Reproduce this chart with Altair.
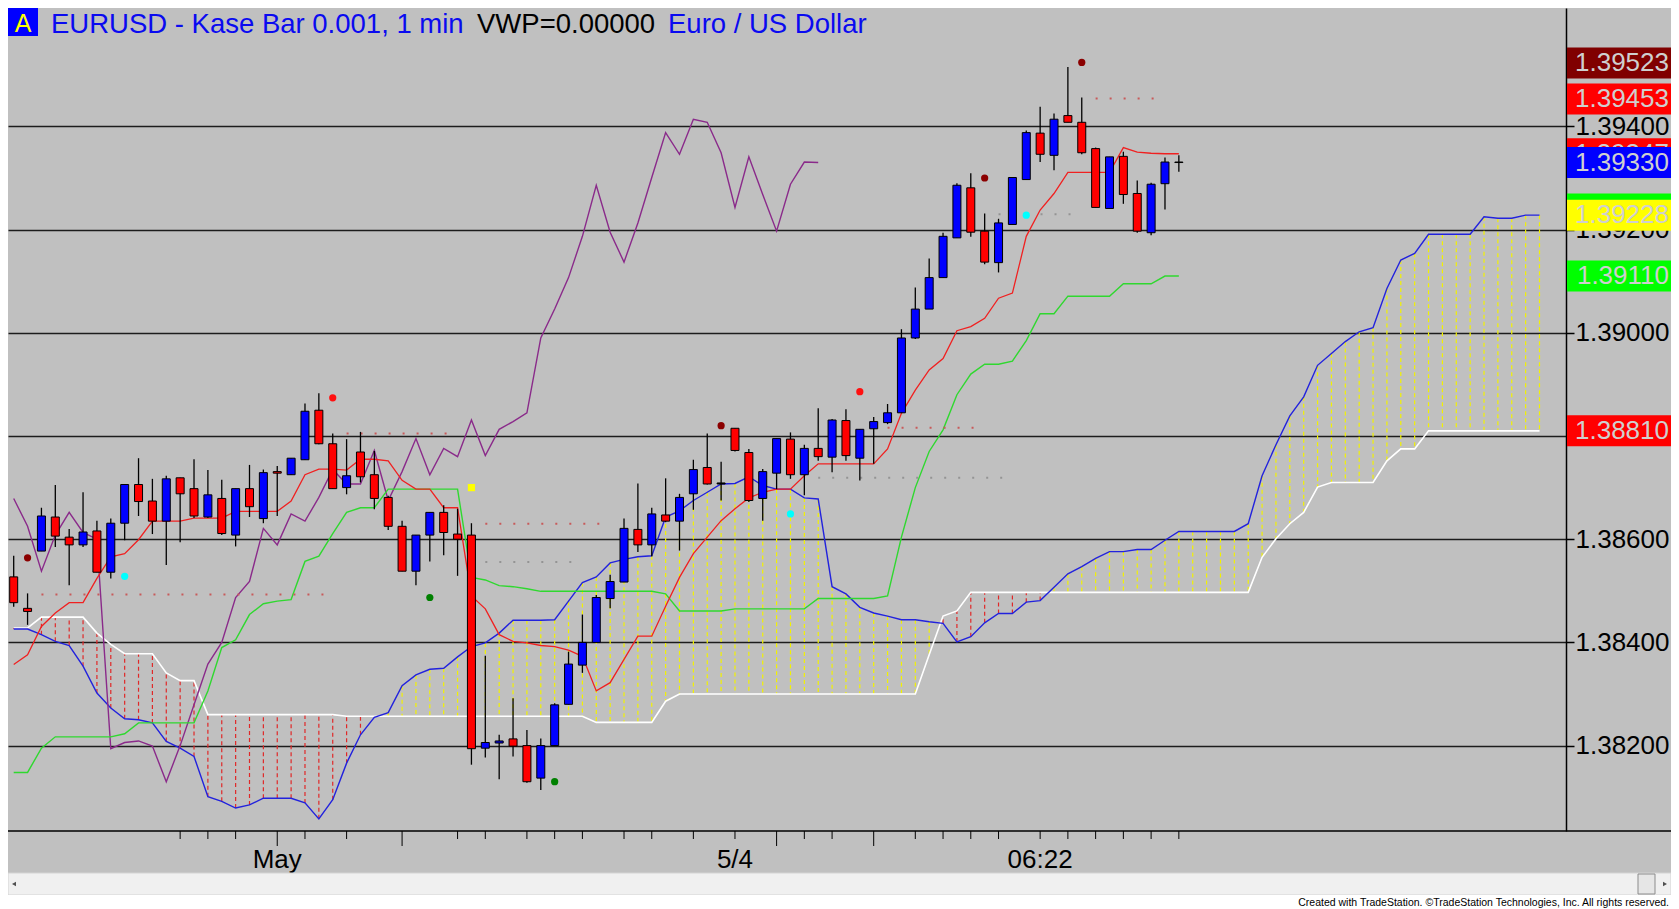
import altair as alt
import pandas as pd

# ---------------- data ----------------
opens = [1.38527,1.38466,1.38577,1.38643,1.38604,1.38589,1.38616,1.38536,1.38631,1.38706,
         1.38674,1.38635,1.38719,1.38698,1.38643,1.38679,1.38608,1.38698,1.38640,1.38731,
         1.38725,1.38754,1.38850,1.38785,1.38700,1.38769,1.38725,1.38681,1.38625,1.38538,
         1.38608,1.38652,1.38610,1.38608,1.38195,1.38205,1.38213,1.38200,1.38137,1.38200,
         1.38280,1.38356,1.38400,1.38485,1.38517,1.38619,1.38589,1.38647,1.38635,1.38688,
         1.38739,1.38709,1.38815,1.38768,1.38679,1.38728,1.38794,1.38725,1.38776,1.38759,
         1.38830,1.38757,1.38814,1.38826,1.38845,1.38990,1.39046,1.39107,1.39184,1.39281,
         1.39197,1.39136,1.39210,1.39297,1.39387,1.39344,1.39421,1.39408,1.39357,1.39241,
         1.39342,1.39270,1.39194,1.39289,1.39331]
highs = [1.38568,1.38495,1.38661,1.38705,1.38620,1.38691,1.38636,1.38640,1.38706,1.38757,
         1.38717,1.38723,1.38719,1.38755,1.38734,1.38715,1.38698,1.38744,1.38735,1.38742,
         1.38757,1.38863,1.38883,1.38805,1.38794,1.38808,1.38771,1.38684,1.38636,1.38608,
         1.38652,1.38666,1.38659,1.38631,1.38374,1.38221,1.38292,1.38230,1.38214,1.38282,
         1.38382,1.38454,1.38492,1.38531,1.38640,1.38708,1.38661,1.38718,1.38688,1.38754,
         1.38805,1.38750,1.38815,1.38775,1.38736,1.38795,1.38807,1.38783,1.38854,1.38833,
         1.38852,1.38813,1.38837,1.38862,1.39007,1.39088,1.39144,1.39194,1.39290,1.39309,
         1.39231,1.39221,1.39302,1.39392,1.39438,1.39425,1.39515,1.39456,1.39359,1.39341,
         1.39351,1.39295,1.39291,1.39340,1.39344]
lows = [1.38469,1.38434,1.38577,1.38585,1.38511,1.38585,1.38536,1.38524,1.38598,1.38645,
        1.38610,1.38550,1.38594,1.38641,1.38641,1.38608,1.38586,1.38643,1.38631,1.38645,
        1.38725,1.38754,1.38784,1.38698,1.38687,1.38710,1.38658,1.38618,1.38538,1.38511,
        1.38557,1.38569,1.38529,1.38163,1.38177,1.38135,1.38179,1.38128,1.38114,1.38200,
        1.38280,1.38341,1.38400,1.38466,1.38517,1.38575,1.38567,1.38633,1.38578,1.38657,
        1.38706,1.38675,1.38770,1.38672,1.38636,1.38697,1.38717,1.38685,1.38752,1.38730,
        1.38752,1.38714,1.38746,1.38823,1.38845,1.38988,1.39046,1.39107,1.39184,1.39186,
        1.39133,1.39117,1.39210,1.39297,1.39331,1.39315,1.39408,1.39346,1.39243,1.39241,
        1.39250,1.39194,1.39189,1.39239,1.39312]
closes = [1.38477,1.38460,1.38645,1.38606,1.38589,1.38614,1.38536,1.38631,1.38706,1.38673,
          1.38635,1.38717,1.38688,1.38645,1.38686,1.38611,1.38698,1.38663,1.38729,1.38728,
          1.38757,1.38848,1.38785,1.38698,1.38723,1.38721,1.38679,1.38625,1.38538,1.38608,
          1.38652,1.38613,1.38600,1.38194,1.38206,1.38209,1.38199,1.38130,1.38200,1.38279,
          1.38358,1.38400,1.38487,1.38518,1.38621,1.38589,1.38649,1.38635,1.38681,1.38735,
          1.38707,1.38707,1.38772,1.38675,1.38731,1.38795,1.38725,1.38776,1.38760,1.38831,
          1.38762,1.38813,1.38828,1.38845,1.38990,1.39046,1.39107,1.39187,1.39286,1.39195,
          1.39137,1.39213,1.39301,1.39388,1.39346,1.39414,1.39408,1.39349,1.39243,1.39341,
          1.39268,1.39197,1.39288,1.39331,1.39330]

tenkan = [1.38357,1.38376,1.38431,1.38457,1.38477,1.38477,1.38524,1.38566,1.38572,1.38599,
          1.38635,1.38635,1.38635,1.38641,1.38641,1.38641,1.38654,1.38654,1.38654,1.38654,
          1.38674,1.38725,1.38736,1.38736,1.38734,1.38755,1.38755,1.38752,1.38714,1.38697,
          1.38697,1.38661,1.38661,1.38490,1.38465,1.38415,1.38402,1.38399,1.38394,1.38392,
          1.38385,1.38373,1.38306,1.38322,1.38367,1.38412,1.38412,1.38470,1.38526,1.38572,
          1.38604,1.38636,1.38659,1.38680,1.38691,1.38697,1.38697,1.38723,1.38746,1.38746,
          1.38746,1.38746,1.38746,1.38775,1.38844,1.38889,1.38928,1.38950,1.39004,1.39012,
          1.39028,1.39067,1.39077,1.39187,1.39238,1.39270,1.39311,1.39311,1.39311,1.39311,
          1.39359,1.39350,1.39348,1.39347,1.39347]
kijun = [1.38148,1.38148,1.38195,1.38217,1.38217,1.38217,1.38217,1.38217,1.38223,1.38244,
         1.38244,1.38244,1.38244,1.38244,1.38306,1.38390,1.38405,1.38454,1.38475,1.38480,
         1.38483,1.38557,1.38567,1.38611,1.38652,1.38661,1.38661,1.38697,1.38697,1.38697,
         1.38697,1.38697,1.38697,1.38526,1.38521,1.38510,1.38508,1.38504,1.38499,1.38499,
         1.38499,1.38499,1.38499,1.38499,1.38499,1.38499,1.38499,1.38494,1.38461,1.38461,
         1.38461,1.38461,1.38465,1.38465,1.38465,1.38465,1.38465,1.38465,1.38485,1.38485,
         1.38485,1.38485,1.38485,1.38490,1.38604,1.38700,1.38770,1.38812,1.38880,1.38920,
         1.38939,1.38939,1.38945,1.38985,1.39037,1.39037,1.39071,1.39071,1.39071,1.39071,
         1.39095,1.39095,1.39095,1.39110,1.39110]
span_a = [1.38426,1.38426,1.38415,1.38402,1.38394,1.38354,1.38302,1.38273,1.38252,1.38250,
          1.38244,1.38208,1.38195,1.38179,1.38101,1.38092,1.38079,1.38085,1.38098,1.38098,
          1.38098,1.38089,1.38058,1.38095,1.38166,1.38221,1.38255,1.38264,1.38316,1.38337,
          1.38348,1.38350,1.38372,1.38392,1.38399,1.38418,1.38443,1.38443,1.38443,1.38444,
          1.38480,1.38516,1.38527,1.38554,1.38561,1.38566,1.38568,1.38643,1.38655,1.38675,
          1.38691,1.38707,1.38708,1.38721,1.38704,1.38697,1.38697,1.38680,1.38678,1.38508,
          1.38494,1.38468,1.38457,1.38451,1.38444,1.38444,1.38440,1.38437,1.38401,1.38411,
          1.38438,1.38456,1.38456,1.38478,1.38481,1.38507,1.38533,1.38547,1.38563,1.38576,
          1.38576,1.38580,1.38580,1.38598,1.38615,1.38615,1.38615,1.38615,1.38615,1.38630,
          1.38723,1.38783,1.38839,1.38876,1.38937,1.38960,1.38983,1.39002,1.39010,1.39086,
          1.39141,1.39154,1.39191,1.39191,1.39191,1.39191,1.39225,1.39222,1.39222,1.39228,
          1.39228]
span_b = [1.38428,1.38428,1.38449,1.38449,1.38449,1.38449,1.38418,1.38396,1.38378,1.38378,
          1.38378,1.38341,1.38326,1.38326,1.38260,1.38260,1.38260,1.38260,1.38260,1.38260,
          1.38260,1.38260,1.38260,1.38260,1.38257,1.38257,1.38257,1.38257,1.38257,1.38257,
          1.38257,1.38257,1.38257,1.38257,1.38257,1.38257,1.38257,1.38257,1.38257,1.38257,
          1.38257,1.38257,1.38245,1.38245,1.38245,1.38245,1.38245,1.38286,1.38300,1.38300,
          1.38300,1.38300,1.38300,1.38300,1.38300,1.38300,1.38300,1.38300,1.38300,1.38300,
          1.38300,1.38300,1.38300,1.38300,1.38300,1.38300,1.38376,1.38451,1.38461,1.38497,
          1.38497,1.38497,1.38497,1.38497,1.38497,1.38497,1.38497,1.38497,1.38497,1.38497,
          1.38497,1.38497,1.38497,1.38497,1.38497,1.38497,1.38497,1.38497,1.38497,1.38497,
          1.38565,1.38601,1.38630,1.38652,1.38701,1.38710,1.38710,1.38710,1.38710,1.38752,
          1.38775,1.38775,1.38810,1.38810,1.38810,1.38810,1.38810,1.38810,1.38810,1.38810,
          1.38810]
chikou_lag = 26

marker_bar = [1, 51, 70, 77, 8, 56, 73, 23, 61, 30, 39]
marker_price = [1.38564, 1.38820, 1.39300, 1.39524, 1.38528, 1.38649, 1.39228,
                1.38874, 1.38886, 1.38487, 1.38130]
marker_kind = ["darkred", "darkred", "darkred", "darkred", "cyan", "cyan", "cyan",
               "red", "red", "green", "green"]
square_bar = [33]
square_price = [1.38700]

level_start = [2, 24, 34, 34, 63, 58, 71, 78]
level_end = [23, 32, 43, 41, 70, 72, 77, 83]
level_price = [1.38493, 1.38805, 1.38630, 1.38556, 1.38816, 1.38719, 1.39230, 1.39454]
level_kind = ["r", "r", "r", "g", "r", "g", "g", "r"]

label_price = [1.39523, 1.39453, 1.39347, 1.39330, 1.39240, 1.39228, 1.39110, 1.38810]
label_kind = ["high", "stop", "tenkan", "last", "aux", "spanA", "kijun", "spanB"]

grid_vals = [1.382, 1.384, 1.386, 1.388, 1.390, 1.392, 1.394]
tick_bars = [12, 14, 16, 19, 21, 24, 28, 32, 34, 37, 39, 41, 44, 46, 49, 52, 55, 57,
             59, 62, 65, 67, 69, 71, 74, 76, 78, 80, 82, 84]
long_tick_bars = [19, 28, 55, 62]
tick_label_bars = [19, 52, 74]
tick_label_text = ["May", "5/4", "06:22"]

title_main = "EURUSD - Kase Bar 0.001, 1 min"
title_mid = "VWP=0.00000"
title_end = "Euro / US Dollar"
footer = "Created with TradeStation. \u00a9TradeStation Technologies, Inc. All rights reserved."

# ---------------- styles ----------------
cloud_colors = {"bull": "#f2f200", "bear": "#e02828"}
marker_colors = {"darkred": "#8b0000", "cyan": "#00ffff", "red": "#ff1010", "green": "#008000"}
level_colors = {"r": "#c85a5a", "g": "#949494"}
candle_colors = {"up": "#0000ff", "down": "#ff0000", "doji": "#000000"}
box_colors = {"high": "#800000", "stop": "#ff0000", "tenkan": "#ff0000", "last": "#0000ff",
              "aux": "#00ff00", "spanA": "#ffff00", "kijun": "#00ff00", "spanB": "#ff0000"}

# ---------------- layout ----------------
W, H = 1558, 823
PAD_R, PAD_B = 105, 78
FULLW = W + PAD_R
FONT = "Liberation Sans"

x_scale = alt.Scale(domain=[-0.05, 111.55], nice=False, zero=False)
y_scale = alt.Scale(domain=[1.380345, 1.396295], nice=False, zero=False)
y_axis = alt.Axis(orient="right", values=grid_vals, title=None,
                  labelExpr="abs(datum.value - 1.388) < 0.00001 ? '' : format(datum.value, '.5f')",
                  labelFontSize=26, labelColor="black", labelFont=FONT,
                  labelPadding=1, tickSize=8, tickColor="black", tickWidth=1.5,
                  domainColor="black", domainWidth=1.5, grid=True,
                  gridColor="#1c1c1c", gridWidth=1.4, labelOverlap=False)


def X(f):
    return alt.X(f, type="quantitative", scale=x_scale, axis=None)


def Y(f):
    return alt.Y(f, type="quantitative", scale=y_scale, axis=y_axis)


def C(f):
    return alt.Color(f, type="nominal", scale=None, legend=None)


one = pd.DataFrame({"k": [0]})

bars = pd.DataFrame({"i": list(range(len(closes))), "o": opens, "h": highs,
                     "l": lows, "c": closes})
bars["top"] = bars[["o", "c"]].max(axis=1)
bars["bot"] = bars[["o", "c"]].min(axis=1)
bars["dir"] = ["doji" if abs(c - o) < 0.000025 else ("up" if c > o else "down")
               for o, c in zip(opens, closes)]
bars["col"] = bars["dir"].map(candle_colors)

cloud = pd.DataFrame({"i": list(range(len(span_a))), "a": span_a, "b": span_b})
cloud["kind"] = ["bull" if a >= b else "bear" for a, b in zip(span_a, span_b)]
cloud["col"] = cloud["kind"].map(cloud_colors)

chikou = pd.DataFrame({"i": list(range(len(closes) - chikou_lag)),
                       "v": closes[chikou_lag:]})


def line_df(vals):
    return pd.DataFrame({"i": list(range(len(vals))), "v": vals})


layers = []

# cloud dashes
layers.append(alt.Chart(cloud).mark_rule(strokeWidth=1.2, strokeDash=[4, 3]).encode(
    x=X("i"), y=Y("a"), y2="b", color=C("col")))

# ichimoku lines
for vals, col, sw in [(span_b, "#ffffff", 1.6), (span_a, "#2222dd", 1.4)]:
    layers.append(alt.Chart(line_df(vals)).mark_line(color=col, strokeWidth=sw).encode(
        x=X("i"), y=Y("v")))
layers.append(alt.Chart(chikou).mark_line(color="#8a2a8a", strokeWidth=1.4).encode(
    x=X("i"), y=Y("v")))
layers.append(alt.Chart(line_df(kijun)).mark_line(color="#2fd82f", strokeWidth=1.4).encode(
    x=X("i"), y=Y("v")))
layers.append(alt.Chart(line_df(tenkan)).mark_line(color="#f02020", strokeWidth=1.3).encode(
    x=X("i"), y=Y("v")))

# dotted levels
levels = pd.DataFrame({"s": level_start, "e": level_end, "p": level_price, "kind": level_kind})
levels["col"] = levels["kind"].map(level_colors)
layers.append(alt.Chart(levels).mark_rule(strokeWidth=2, strokeDash=[2, 12]).encode(
    x=X("s"), x2="e", y=Y("p"), color=C("col")))

# candles
layers.append(alt.Chart(bars).mark_rule(color="black", strokeWidth=1.3).encode(
    x=X("i"), y=Y("h"), y2="l"))
layers.append(alt.Chart(bars).mark_bar(size=8, stroke="black", strokeWidth=1).encode(
    x=X("i"), y=Y("top"), y2="bot",
    fill=alt.Fill("col:N", scale=None, legend=None)))

# markers
markers = pd.DataFrame({"i": marker_bar, "p": marker_price, "kind": marker_kind})
markers["col"] = markers["kind"].map(marker_colors)
layers.append(alt.Chart(markers).mark_circle(size=52, opacity=1).encode(
    x=X("i"), y=Y("p"), color=C("col")))
layers.append(alt.Chart(pd.DataFrame({"i": square_bar, "p": square_price})).mark_square(
    size=52, color="#ffff00", opacity=1).encode(x=X("i"), y=Y("p")))

# title
layers.append(alt.Chart(one).mark_rect(fill="#0000ff").encode(
    x=alt.value(0), x2=alt.value(30), y=alt.value(0), y2=alt.value(28)))
layers.append(alt.Chart(pd.DataFrame({"t": ["A"]})).mark_text(
    font=FONT, fontSize=25, color="#ffff00", align="center", baseline="alphabetic").encode(
    text="t:N", x=alt.value(15), y=alt.value(24)))
for txt, xpos, col in [(title_main, 43, "#0a0af0"), (title_mid, 469, "#000000"),
                       (title_end, 660, "#0a0af0")]:
    layers.append(alt.Chart(pd.DataFrame({"t": [txt]})).mark_text(
        font=FONT, fontSize=27.5, color=col, align="left", baseline="alphabetic").encode(
        text="t:N", x=alt.value(xpos), y=alt.value(25)))

# right price labels (boxes drawn in order so later ones cover earlier ones)
half_box = 0.000300
labels = pd.DataFrame({"p": label_price, "kind": label_kind})
labels["txt"] = [f"{p:.5f}" for p in label_price]
for k in range(len(labels)):
    sub = labels.iloc[[k]].copy()
    sub["p1"] = sub["p"] + half_box
    sub["p2"] = sub["p"] - half_box
    kind = sub["kind"].iloc[0]
    layers.append(alt.Chart(sub).mark_rect(fill=box_colors[kind]).encode(
        x=alt.value(W + 1), x2=alt.value(FULLW), y=Y("p1"), y2="p2"))
    if kind != "aux":
        layers.append(alt.Chart(sub).mark_text(
            font=FONT, fontSize=26, color="#cfcfcf", align="right", baseline="middle").encode(
            text="txt:N", x=alt.value(FULLW - 2), y=Y("p")))

# bottom time axis
layers.append(alt.Chart(one).mark_rule(color="black", strokeWidth=1.6).encode(
    x=alt.value(0), x2=alt.value(FULLW), y=alt.value(H)))
short_ticks = pd.DataFrame({"t": [t for t in tick_bars if t not in long_tick_bars]})
long_ticks = pd.DataFrame({"t": long_tick_bars})
layers.append(alt.Chart(short_ticks).mark_rule(color="black", strokeWidth=1).encode(
    x=X("t"), y=alt.value(H), y2=alt.value(H + 8)))
layers.append(alt.Chart(long_ticks).mark_rule(color="black", strokeWidth=1).encode(
    x=X("t"), y=alt.value(H), y2=alt.value(H + 15)))
layers.append(alt.Chart(pd.DataFrame({"t": tick_label_bars, "s": tick_label_text})).mark_text(
    font=FONT, fontSize=26, color="black", align="center", baseline="alphabetic").encode(
    x=X("t"), y=alt.value(H + 37), text="s:N"))

# scrollbar + footer strip
layers.append(alt.Chart(one).mark_rect(fill="#f0f0f0", stroke="#d4d4d4", strokeWidth=1).encode(
    x=alt.value(0), x2=alt.value(FULLW), y=alt.value(H + 42), y2=alt.value(H + 64)))
layers.append(alt.Chart(one).mark_point(shape="triangle-left", filled=True, size=22,
                                        color="#505050", opacity=1).encode(
    x=alt.value(6), y=alt.value(H + 53)))
layers.append(alt.Chart(one).mark_point(shape="triangle-right", filled=True, size=22,
                                        color="#505050", opacity=1).encode(
    x=alt.value(FULLW - 6), y=alt.value(H + 53)))
layers.append(alt.Chart(one).mark_rect(fill="#e6e6e6", stroke="#8c8c8c", strokeWidth=1).encode(
    x=alt.value(FULLW - 33), x2=alt.value(FULLW - 16), y=alt.value(H + 43), y2=alt.value(H + 63)))
layers.append(alt.Chart(one).mark_rect(fill="#ffffff").encode(
    x=alt.value(0), x2=alt.value(FULLW), y=alt.value(H + 64), y2=alt.value(H + PAD_B)))
layers.append(alt.Chart(pd.DataFrame({"t": [footer]})).mark_text(
    font="Liberation Sans Narrow, Liberation Sans", fontSize=10.5, color="black",
    align="right", baseline="alphabetic").encode(
    text="t:N", x=alt.value(FULLW - 2), y=alt.value(H + 75)))

chart = alt.layer(*layers).properties(
    width=W, height=H,
    padding={"left": 0, "top": 0, "right": PAD_R, "bottom": PAD_B},
    autosize=alt.AutoSizeParams(type="none"),
    background="#c0c0c0",
).configure_view(stroke=None, fill="#c0c0c0")

chart.save("out.html", embed_options={"renderer": "svg", "actions": False})
